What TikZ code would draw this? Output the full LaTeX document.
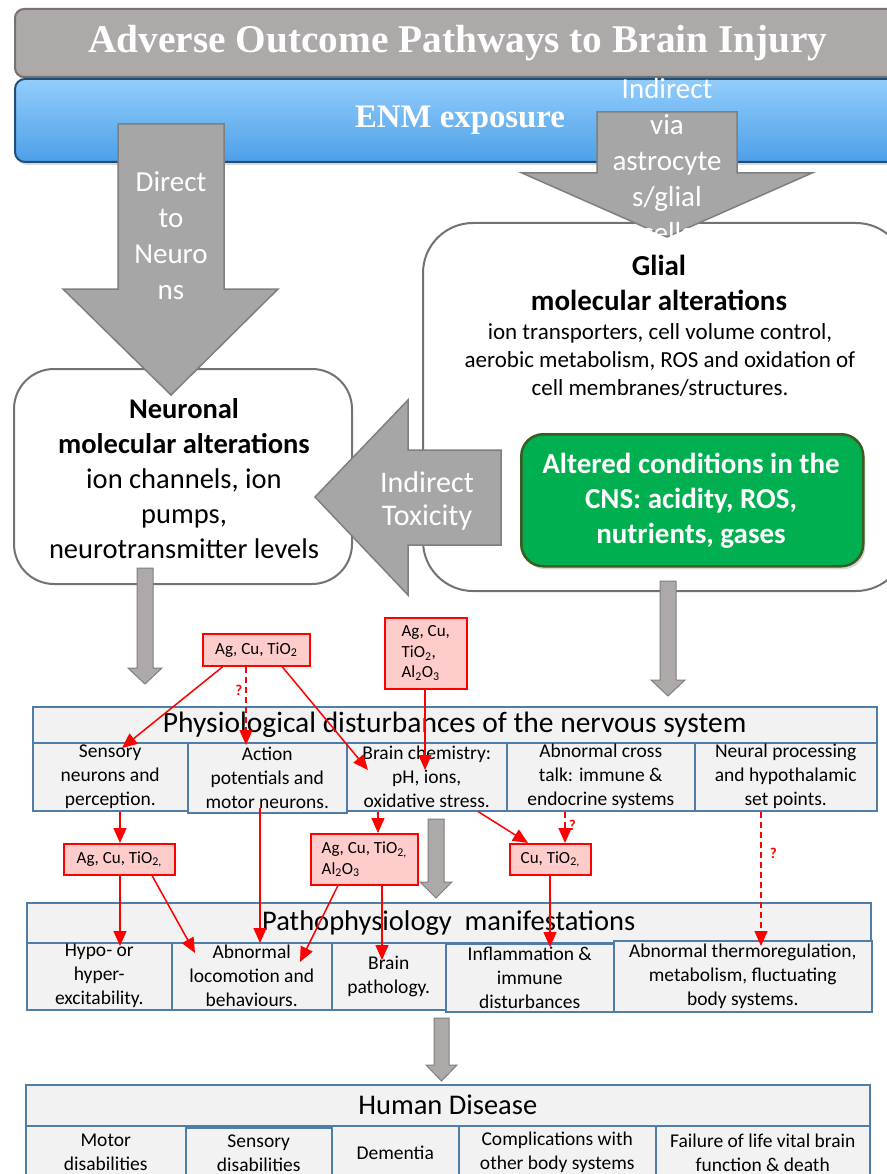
\documentclass[tikz,border=0pt]{standalone}
\usepackage{fontspec}
\usepackage{graphicx}
\setmainfont{Carlito}
\newfontfamily\titleserif{Liberation Serif}
\usetikzlibrary{arrows.meta,shadows}
\definecolor{titlegray}{HTML}{ADA9A8}
\definecolor{titleborder}{HTML}{767272}
\definecolor{bluetop}{HTML}{93CDFB}
\definecolor{bluebot}{HTML}{4CA0E8}
\definecolor{blueborder}{HTML}{1F4E79}
\definecolor{arrowgray}{HTML}{A6A6A6}
\definecolor{arrowborder}{HTML}{7F7F7F}
\definecolor{slimgray}{HTML}{ADA9A8}
\definecolor{boxborder}{HTML}{767171}
\definecolor{greenfill}{HTML}{00B050}
\definecolor{greenborder}{HTML}{3B5B20}
\definecolor{cellfill}{HTML}{F2F2F2}
\definecolor{cellborder}{HTML}{4F7DAA}
\definecolor{redfill}{HTML}{FFCCCC}
\definecolor{redline}{HTML}{FF0000}
\tikzset{
  titlebox/.style={draw=titleborder, line width=2pt, fill=titlegray, rounded corners=9pt, inner sep=0pt,
    drop shadow={shadow xshift=2pt, shadow yshift=-3pt, opacity=0.3}},
  bluebar/.style={draw=blueborder, line width=2pt, top color=bluetop, bottom color=bluebot, rounded corners=10pt, inner sep=0pt,
    drop shadow={shadow xshift=2pt, shadow yshift=-3pt, opacity=0.3}},
  softbox/.style={draw=boxborder, line width=2pt, fill=white, inner sep=0pt},
  greenbox/.style={draw=greenborder, line width=2.5pt, fill=greenfill, rounded corners=22pt, inner sep=0pt,
    drop shadow={shadow xshift=2pt, shadow yshift=-3pt, opacity=0.3}},
  greentext/.style={text=white, align=center, inner sep=0pt, font=\fontsize{29}{35}\selectfont\bfseries},
  boldtext/.style={align=center, inner sep=0pt, font=\fontsize{29}{35}\selectfont\bfseries},
  bodytext/.style={align=center, inner sep=0pt, font=\fontsize{23}{28}\selectfont},
  neurotext/.style={align=center, inner sep=0pt, font=\fontsize{28.5}{35}\selectfont},
  blockarr/.style={fill=arrowgray, draw=arrowborder, line width=1.5pt, line join=miter},
  slimarr/.style={fill=slimgray, draw=arrowborder, line width=1pt, line join=miter},
  arrowlabel/.style={text=white, align=center, inner sep=0pt, font=\fontsize{29}{36}\selectfont},
  cell/.style={draw=cellborder, fill=cellfill, line width=1.5pt, inner sep=0pt, anchor=north west, align=center,
    font=\fontsize{19.5}{24}\selectfont},
  hcell/.style={cell, font=\fontsize{28.5}{32}\selectfont},
  redbox/.style={draw=redline, fill=redfill, line width=1.5pt, inner sep=0pt, anchor=north west, align=left,
    font=\fontsize{17}{20.5}\selectfont},
  redarr/.style={draw=redline, line width=1.5pt, -{Triangle[width=13pt,length=15pt]}},
  reddash/.style={redarr, dash pattern=on 6pt off 4pt},
  qmark/.style={text=redline, inner sep=0pt, font=\fontsize{15}{15}\selectfont\bfseries}
}
\begin{document}
\begin{tikzpicture}[x=1pt,y=-1pt]
\fill[white] (0,0) rectangle (886,1174);
\useasboundingbox (0,0) rectangle (886,1174);

% banners
\node[titlebox, anchor=north west, minimum width=888pt, minimum height=68pt] (title) at (14,8) {};
\node[text=white, inner sep=0pt] (titletext) at (458,43)
  {\resizebox{739pt}{!}{\titleserif\bfseries\fontsize{38}{40}\selectfont Adverse Outcome Pathways to Brain Injury}};
\node[bluebar, anchor=north west, minimum width=888pt, minimum height=83pt] (enm) at (14,78) {};
\node[text=white, inner sep=0pt] (enmtext) at (460,120)
  {\resizebox{210pt}{!}{\titleserif\bfseries\fontsize{32}{34}\selectfont ENM exposure}};

% glial box
\node[softbox, rounded corners=50pt, anchor=north west, minimum width=483pt, minimum height=368pt] (glial) at (422,222) {};
\node[boldtext] (glialtitle) at (659,282.5) {Glial\\molecular alterations};
\node[bodytext] (glialbody) at (660,360) {ion transporters, cell volume control,\\aerobic metabolism, ROS and oxidation of\\cell membranes/structures.};
\node[greenbox, anchor=north west, minimum width=342pt, minimum height=132pt] (green) at (520,433) {};
\node[greentext] (greenlbl) at (691,501) {Altered conditions in the\\CNS: acidity, ROS,\\nutrients, gases};

% neuronal box
\node[softbox, rounded corners=40pt, anchor=north west, minimum width=338pt, minimum height=215pt] (neuro) at (13,368) {};
\node[neurotext] (neurolbl) at (184,479) {\textbf{Neuronal}\\\textbf{molecular alterations}\\ion channels, ion\\pumps,\\neurotransmitter levels};

% big block arrows
\draw[blockarr] (118,124) -- (224,124) -- (224,289) -- (278,289) -- (171,395) -- (63,289) -- (118,289) -- cycle;
\node[arrowlabel] (directlbl) at (171,236) {Direct\\to\\Neuro\\ns};
\draw[blockarr] (597,112) -- (737,112) -- (737,173) -- (812,173) -- (667,237) -- (522,173) -- (597,173) -- cycle;
\node[arrowlabel] (indlbl) at (667,161) {Indirect\\via\\astrocyte\\s/glial\\cells};
\draw[blockarr] (501,450) -- (408,450) -- (408,400) -- (315,497) -- (408,595) -- (408,545) -- (501,545) -- cycle;
\node[arrowlabel, font=\fontsize{30}{33}\selectfont] (toxlbl) at (427,501) {Indirect\\Toxicity};

% slim arrows
\draw[slimarr] (137,568) -- (153,568) -- (153,668) -- (162,668) -- (145,684) -- (128,668) -- (137,668) -- cycle;
\draw[slimarr] (660,581) -- (676,581) -- (676,680) -- (685,680) -- (668,696) -- (651,680) -- (660,680) -- cycle;
\draw[slimarr] (428,819) -- (444,819) -- (444,882) -- (452,882) -- (436,898) -- (420,882) -- (428,882) -- cycle;
\draw[slimarr] (434,1018) -- (449,1018) -- (449,1065) -- (457,1065) -- (441.5,1081) -- (426,1065) -- (434,1065) -- cycle;

% physiological table
\node[hcell, minimum width=844pt, minimum height=36pt, font=\fontsize{29.5}{32}\selectfont] (phys) at (32,706) {Physiological disturbances of the nervous system};
\node[cell, minimum width=155pt, minimum height=68pt] (psens) at (32,742) {Sensory\\neurons and\\perception.};
\node[cell, minimum width=160pt, minimum height=68pt] (pchem) at (346,742) {Brain chemistry:\\pH, ions,\\oxidative stress.};
\node[cell, minimum width=188pt, minimum height=68pt] (pcross) at (506,742) {Abnormal cross\\talk: immune \&\\endocrine systems};
\node[cell, minimum width=182pt, minimum height=68pt] (pneural) at (694,742) {Neural processing\\and hypothalamic\\set points.};
\node[cell, minimum width=159pt, minimum height=70pt] (pact) at (187,742) {Action\\potentials and\\motor neurons.};

% pathophysiology table
\node[hcell, minimum width=844pt, minimum height=40pt] (patho) at (26,902) {Pathophysiology\ \ manifestations};
\node[cell, minimum width=145pt, minimum height=67pt] (hypo) at (26,942) {Hypo- or\\hyper-\\excitability.};
\node[cell, minimum width=160pt, minimum height=67pt] (loco) at (171,942) {Abnormal\\locomotion and\\behaviours.};
\node[cell, minimum width=114pt, minimum height=67pt] (brainp) at (331,942) {Brain\\pathology.};
\node[cell, minimum width=168pt, minimum height=68pt] (inflam) at (445,943) {Inflammation \&\\immune\\disturbances};
\node[cell, minimum width=258pt, minimum height=71pt] (thermo) at (613,940) {Abnormal thermoregulation,\\metabolism, fluctuating\\body systems.};

% human disease table
\node[hcell, minimum width=844pt, minimum height=41pt] (human) at (25,1084) {Human Disease};
\node[cell, minimum width=160pt, minimum height=54pt] (motor) at (25,1125) {Motor\\disabilities};
\node[cell, minimum width=127pt, minimum height=54pt] (dementia) at (331,1125) {Dementia};
\node[cell, minimum width=197pt, minimum height=54pt] (compl) at (458,1125) {Complications with\\other body systems};
\node[cell, minimum width=214pt, minimum height=54pt] (failure) at (655,1125) {Failure of life vital brain\\function \& death};
\node[cell, minimum width=146pt, minimum height=50pt] (hsens) at (185,1127) {Sensory\\disabilities};

% red boxes
\node[redbox, minimum width=107pt, minimum height=32pt, align=center] (r1) at (202,633) {Ag, Cu, TiO\textsubscript{2}};
\node[redbox, minimum width=82pt, minimum height=71pt] (r2) at (384,617) {Ag, Cu,\\TiO\textsubscript{2},\\Al\textsubscript{2}O\textsubscript{3}};
\node[redbox, minimum width=111pt, minimum height=31pt, align=center] (r3) at (63,843) {Ag, Cu, TiO\textsubscript{2,}};
\node[redbox, minimum width=107pt, minimum height=51pt] (r4) at (310,833) {Ag, Cu, TiO\textsubscript{2,}\\Al\textsubscript{2}O\textsubscript{3}};
\node[redbox, minimum width=81pt, minimum height=31pt, align=center] (r5) at (509,843) {Cu, TiO\textsubscript{2,}};

% red connectors
\draw[redarr] ([xshift=21pt]r1.south west) -- ([xshift=90pt,yshift=-6pt]psens.north west);
\draw[reddash] ([xshift=44pt]r1.south west) -- node[qmark, pos=0.31, left=3pt] (q1) {?} ([xshift=59pt,yshift=-3pt]pact.north west);
\draw[redarr] ([xshift=80pt]r1.south west) -- ([xshift=22pt,yshift=-28pt]pchem.north west);
\draw[redarr] ([xshift=41pt]r2.south west) -- ([xshift=79pt,yshift=-28pt]pchem.north west);
\draw[redarr] ([xshift=88pt]psens.south west) -- ([xshift=57pt]r3.north west);
\draw[redarr] ([xshift=73pt,yshift=6pt]pact.south west) -- ([xshift=89pt,yshift=-1pt]loco.north west);
\draw[redarr] ([xshift=32pt]pchem.south west) -- ([xshift=68pt]r4.north west);
\draw[redarr] ([xshift=132pt]pchem.south west) -- ([xshift=19pt]r5.north west);
\draw[reddash] ([xshift=59pt]pcross.south west) -- node[qmark, pos=0.45, right=3pt] (q2) {?} ([xshift=56pt]r5.north west);
\draw[reddash] ([xshift=67pt]pneural.south west) -- node[qmark, pos=0.31, right=8pt] (q3) {?} ([xshift=148pt,yshift=-6pt]thermo.north west);
\draw[redarr] ([xshift=57pt]r3.south west) -- ([xshift=94pt,yshift=-4pt]hypo.north west);
\draw[redarr] ([xshift=89pt]r3.south west) -- ([xshift=24pt,yshift=-11pt]loco.north west);
\draw[redarr] ([xshift=28pt]r4.south west) -- ([xshift=129pt,yshift=-20pt]loco.north west);
\draw[redarr] ([xshift=72pt]r4.south west) -- ([xshift=51pt,yshift=-18pt]brainp.north west);
\draw[redarr] ([xshift=41pt]r5.south west) -- ([xshift=105pt,yshift=-4pt]inflam.north west);
\end{tikzpicture}
\end{document}
